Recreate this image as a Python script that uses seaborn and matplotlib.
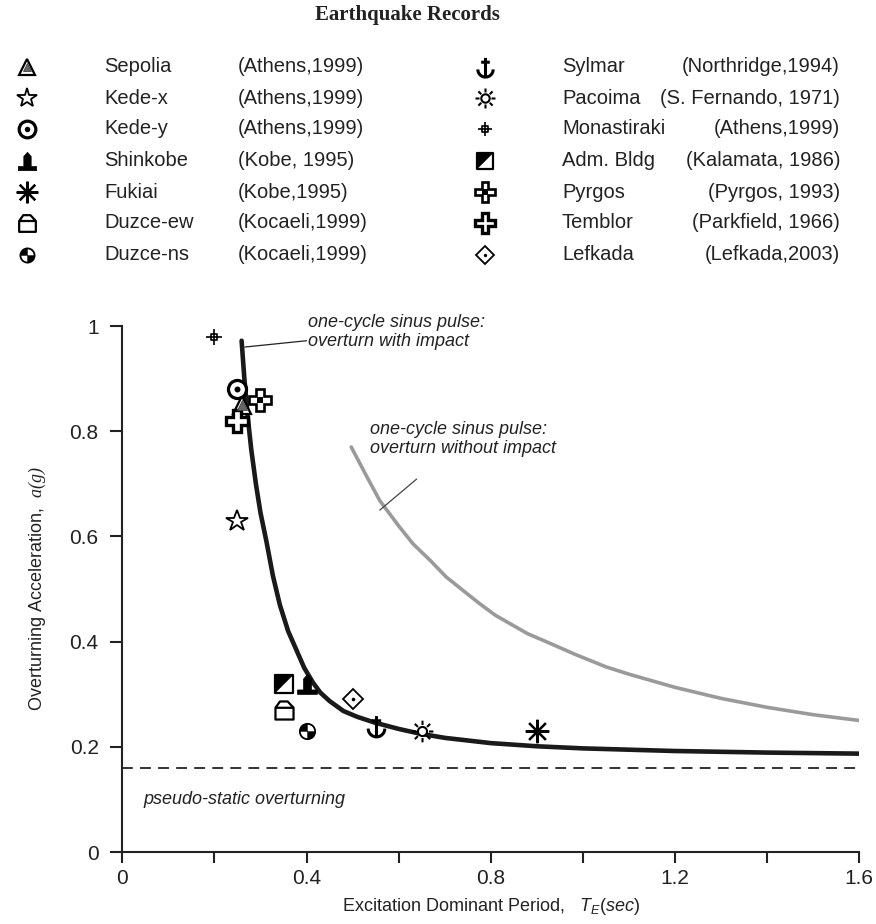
import numpy as np
import matplotlib
matplotlib.use("Agg")
import matplotlib.pyplot as plt
from matplotlib.path import Path
from matplotlib.markers import MarkerStyle
import seaborn as sns

# ---------------- data ----------------
records = ["Sepolia", "Kede-x", "Kede-y", "Shinkobe", "Fukiai", "Duzce-ew", "Duzce-ns",
           "Sylmar", "Pacoima", "Monastiraki", "Adm. Bldg", "Pyrgos", "Temblor", "Lefkada"]
places = ["(Athens,1999)", "(Athens,1999)", "(Athens,1999)", "(Kobe, 1995)", "(Kobe,1995)",
          "(Kocaeli,1999)", "(Kocaeli,1999)",
          "(Northridge,1994)", "(S. Fernando, 1971)", "(Athens,1999)", "(Kalamata, 1986)",
          "(Pyrgos, 1993)", "(Parkfield, 1966)", "(Lefkada,2003)"]
period = [0.26, 0.25, 0.25, 0.40, 0.90, 0.35, 0.40, 0.55, 0.65, 0.20, 0.35, 0.30, 0.25, 0.50]
accel = [0.85, 0.63, 0.88, 0.32, 0.23, 0.27, 0.23, 0.24, 0.23, 0.98, 0.32, 0.86, 0.82, 0.29]

impact_T = [0.259, 0.265, 0.272, 0.280, 0.290, 0.300, 0.313, 0.327, 0.342, 0.360, 0.378, 0.395,
            0.414, 0.430, 0.450, 0.480, 0.510, 0.548, 0.600, 0.646, 0.700, 0.800, 0.900, 1.000,
            1.200, 1.400, 1.600]
impact_a = [0.972, 0.900, 0.830, 0.765, 0.700, 0.645, 0.590, 0.525, 0.470, 0.420, 0.384, 0.350,
            0.322, 0.303, 0.287, 0.268, 0.257, 0.246, 0.234, 0.225, 0.217, 0.207, 0.201, 0.197,
            0.192, 0.189, 0.187]

noimpact_T = [0.497, 0.530, 0.559, 0.600, 0.631, 0.670, 0.703, 0.740, 0.776, 0.810, 0.848, 0.880,
              0.920, 0.985, 1.050, 1.100, 1.200, 1.300, 1.400, 1.500, 1.600]
noimpact_a = [0.770, 0.715, 0.668, 0.620, 0.586, 0.553, 0.523, 0.497, 0.472, 0.450, 0.431, 0.415,
              0.400, 0.375, 0.352, 0.338, 0.313, 0.292, 0.275, 0.261, 0.250]

pseudo_static = 0.16
xticks = [0, 0.4, 0.8, 1.2, 1.6]
xticklabels = ["0", "0.4", "0.8", "1.2", "1.6"]
yticks = [0, 0.2, 0.4, 0.6, 0.8, 1.0]
yticklabels = ["0", "0.2", "0.4", "0.6", "0.8", "1"]

# ---------------- style ----------------
sns.set_style("ticks")
plt.rcParams['font.family'] = ['Liberation Sans', 'DejaVu Sans']
plt.rcParams['mathtext.fontset'] = 'custom'
plt.rcParams['mathtext.it'] = 'Liberation Sans:italic'
plt.rcParams['mathtext.rm'] = 'Liberation Sans'
plt.rcParams['mathtext.cal'] = 'Liberation Serif:italic'


def poly(verts):
    v = list(verts) + [verts[0]]
    codes = [Path.MOVETO] + [Path.LINETO] * (len(verts) - 1) + [Path.CLOSEPOLY]
    return Path(np.array(v, float), codes)


def seg(a, b):
    return Path(np.array([a, b], float), [Path.MOVETO, Path.LINETO])


tower = poly([(-1, -1), (1, -1), (1, -0.55), (0.4, -0.55), (0.4, 0.55), (0, 1),
              (-0.4, 0.55), (-0.4, -0.55), (-1, -0.55)])
house = Path.make_compound_path(
    poly([(-1, -1), (1, -1), (1, 0.3), (0.35, 1), (-0.5, 1), (-1, 0.3)]),
    seg((-1, 0.3), (1, 0.3)))
ball = Path.make_compound_path(Path.wedge(90, 180), Path.wedge(270, 360))
ang = np.linspace(np.pi, 2 * np.pi, 25)
arc = Path(np.column_stack([0.8 * np.cos(ang), 0.8 * np.sin(ang) - 0.2]),
           [Path.MOVETO] + [Path.LINETO] * 24)
anchor = Path.make_compound_path(seg((0, -1), (0, 1)), seg((-0.45, 0.55), (0.45, 0.55)), arc)
rays = [seg((0.6 * np.cos(t), 0.6 * np.sin(t)), (np.cos(t), np.sin(t)))
        for t in np.arange(8) * np.pi / 4]
sun = Path.make_compound_path(Path.circle((0, 0), 0.42), *rays)
crosshair = Path.make_compound_path(poly([(-0.45, -0.45), (0.45, -0.45), (0.45, 0.45), (-0.45, 0.45)]),
                                    seg((-1, 0), (1, 0)), seg((0, -1), (0, 1)))
square = poly([(-1, -1), (1, -1), (1, 1), (-1, 1)])
halftri = poly([(-1, -1), (-1, 1), (1, 1)])

# layers: (marker, size factor, face, edge, edge width)
styles = {
    "Sepolia": [('^', 1.0, 'white', 'k', 1.6), ('^', 0.5, '#666666', '#444444', 0.6)],
    "Kede-x": [('*', 1.25, 'white', 'k', 1.3)],
    "Kede-y": [('o', 1.0, 'white', 'k', 2.3), ('o', 0.33, 'k', 'k', 0)],
    "Shinkobe": [(tower, 1.1, 'k', 'k', 0.5)],
    "Fukiai": [((8, 2, 0), 1.3, 'k', 'k', 1.6)],
    "Duzce-ew": [(house, 1.0, 'white', 'k', 1.6)],
    "Duzce-ns": [('o', 0.85, 'white', 'k', 1.3), (ball, 0.85, 'k', 'k', 0.3)],
    "Sylmar": [(anchor, 1.15, 'none', 'k', 2.2)],
    "Pacoima": [(sun, 1.2, 'white', 'k', 1.5)],
    "Monastiraki": [(crosshair, 0.85, 'none', 'k', 1.2)],
    "Adm. Bldg": [(square, 0.95, 'white', 'k', 1.6), (halftri, 0.95, 'k', 'k', 0.3)],
    "Pyrgos": [('P', 1.2, 'white', 'k', 1.9), ('s', 0.33, 'k', 'k', 0)],
    "Temblor": [('P', 1.2, 'white', 'k', 2.4)],
    "Lefkada": [('D', 0.8, 'white', 'k', 1.3), ('o', 0.2, 'k', 'k', 0)],
}


def draw_marker(ax, name, x, y, base, z=5):
    for k, (m, f, fc, ec, lw) in enumerate(styles[name]):
        ax.plot([x], [y], ls='none', marker=MarkerStyle(m), ms=base * f, mfc=fc, mec=ec,
                mew=lw, clip_on=False, zorder=z + k)


# ---------------- figure ----------------
W, H = 876, 924
fig = plt.figure(figsize=(W / 100, H / 100), dpi=100)
x0, x1, ytop, ybot = 122.3, 859.3, 326, 852
ax = fig.add_axes([x0 / W, (H - ybot) / H, (x1 - x0) / W, (ybot - ytop) / H])
ax.set_facecolor('white')
fig.patch.set_facecolor('white')

sns.lineplot(x=noimpact_T, y=noimpact_a, ax=ax, color='#9a9a9a', lw=2.6, sort=False,
             estimator=None, zorder=2)
sns.lineplot(x=impact_T, y=impact_a, ax=ax, color='#1a1a1a', lw=3.3, sort=False,
             estimator=None, zorder=3)
ax.axhline(pseudo_static, color='#222222', lw=1.3, dashes=(6, 4), zorder=1)

for name, t, a in zip(records, period, accel):
    draw_marker(ax, name, t, a, 13)

ax.set_xlim(0, 1.6)
ax.set_ylim(0, 1)
ax.set_xticks(xticks)
ax.set_xticklabels(xticklabels)
ax.set_xticks([0.2, 0.6, 1.0, 1.4], minor=True)
ax.set_yticks(yticks)
ax.set_yticklabels(yticklabels)
for s in ['top', 'right']:
    ax.spines[s].set_visible(False)
for s in ['left', 'bottom']:
    ax.spines[s].set_linewidth(1.5)
    ax.spines[s].set_color('#222222')
ax.tick_params(axis='x', which='both', direction='out', length=8, width=1.5,
               colors='#222222', labelsize=15, pad=4, labelcolor='#222222')
ax.tick_params(axis='y', which='both', direction='out', length=9, width=1.5,
               colors='#222222', labelsize=15, pad=8, labelcolor='#222222')

ax.set_ylabel(r"Overturning Acceleration,  $\mathcal{a(g)}$", fontsize=13, color='#222222')
ax.yaxis.set_label_coords(-0.101, 0.5)
ax.set_xlabel(r"Excitation Dominant Period,   $T_E(sec)$", fontsize=13, color='#222222')
ax.xaxis.set_label_coords(0.5, -0.083)

# annotations
ax.text(0.403, 0.988, "one-cycle sinus pulse:\noverturn with impact", fontsize=13,
        style='italic', ha='left', va='center', linespacing=1.15, color='#222222')
ax.plot([0.266, 0.40], [0.960, 0.972], color='#222222', lw=0.9)
ax.text(0.537, 0.785, "one-cycle sinus pulse:\noverturn without impact", fontsize=13,
        style='italic', ha='left', va='center', linespacing=1.15, color='#222222')
ax.plot([0.559, 0.639], [0.650, 0.709], color='#444444', lw=0.9)
ax.text(0.045, 0.099, "pseudo-static overturning", fontsize=13, style='italic',
        ha='left', va='center', color='#222222')

# ---------------- legend block ----------------
lax = fig.add_axes([0, 0, 1, 1])
lax.set_xlim(0, W)
lax.set_ylim(H, 0)
lax.axis('off')
lax.patch.set_visible(False)

fig.text(407 / W, 1 - 15 / H, "Earthquake Records", family=['Liberation Serif'],
         weight='bold', fontsize=15, ha='center', va='center', color='#222222')

row_y = [67, 98, 129, 161, 192, 223, 255]
for i in range(7):
    name, place = records[i], places[i]
    draw_marker(lax, name, 27, row_y[i], 12)
    lax.text(104, row_y[i], name, fontsize=14.5, va='center', ha='left', color='#222222')
    lax.text(238, row_y[i], place, fontsize=14.5, va='center', ha='left', color='#222222')
for i in range(7):
    name, place = records[7 + i], places[7 + i]
    draw_marker(lax, name, 485, row_y[i], 12)
    lax.text(562, row_y[i], name, fontsize=14.5, va='center', ha='left', color='#222222')
    lax.text(840, row_y[i], place, fontsize=14.5, va='center', ha='right', color='#222222')

fig.savefig("out.png", dpi=100, facecolor='white')
